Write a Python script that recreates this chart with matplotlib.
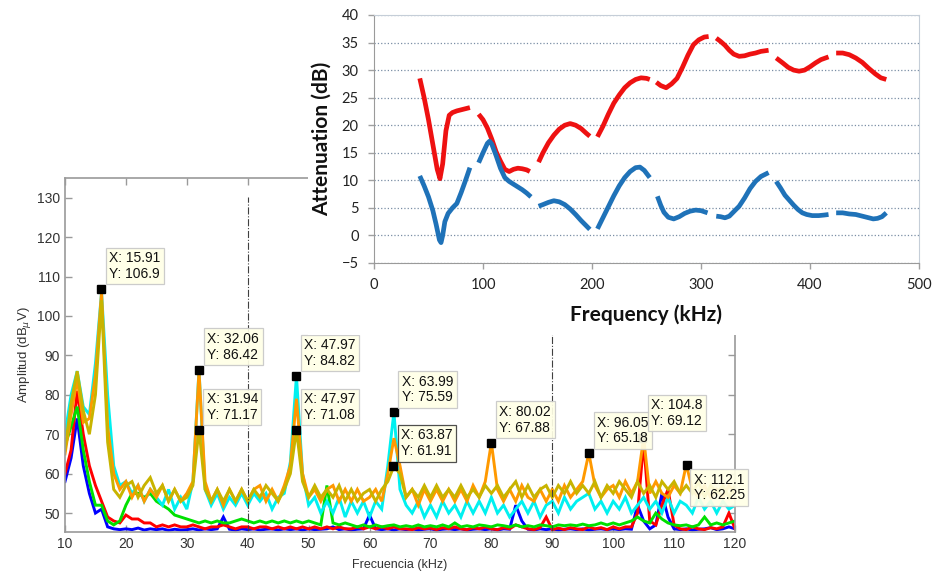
import numpy as np
import matplotlib
matplotlib.use("Agg")
import matplotlib.pyplot as plt
from matplotlib.patches import Rectangle

# ---------------- bottom chart data (MATLAB spectra) ----------------
freq_khz = list(range(10, 121))

amp_blue = [58, 64, 74, 62, 55, 50, 51, 46.5, 46, 45.8,
            46, 45.8, 46.2, 45.7, 46, 45.8, 46, 45.6, 45.9, 45.7,
            45.8, 46, 45.7, 46, 45.8, 46, 49, 45.9, 45.7, 46,
            45.8, 46, 45.7, 45.9, 46, 45.7, 46, 45.8, 46, 45.7,
            46, 45.8, 45.9, 46, 46.5, 45.8, 46, 45.7, 45.9, 46,
            49.5, 46, 45.8, 46, 45.7, 46, 45.8, 46, 45.7, 45.9,
            46, 45.7, 45.9, 46, 45.8, 46, 45.7, 45.9, 46, 45.8,
            46, 45.7, 46, 45.9, 52, 48, 45.9, 45.7, 46, 45.8,
            46, 45.7, 45.9, 46, 45.8, 46, 45.7, 45.9, 46, 45.8,
            46, 45.8, 46, 45.9, 52, 48, 46, 47, 55, 49,
            46, 45.8, 46, 45.7, 45.9, 46, 46.3, 45.8, 46, 46.5,
            46]

amp_red = [60, 66, 81, 70, 62, 57, 53, 49, 48, 47.5,
           49.5, 48.5, 48.5, 47.5, 47.5, 46.5, 47, 46.5, 47, 46.5,
           46.5, 47, 46.5, 46, 46.5, 46.5, 47, 46.5, 46, 46.5,
           46.5, 46, 46.5, 46.5, 46, 46.5, 46, 46.5, 46, 46.5,
           46, 46.5, 46, 46.5, 46, 46.5, 46, 46, 46.5, 46,
           46.5, 46, 46.5, 46, 46.5, 46, 46, 45.8, 46.3, 46,
           46.2, 45.8, 46.3, 46, 46.5, 46, 45.8, 46.3, 46, 46.5,
           46, 45.8, 46.3, 46, 47, 46.5, 46, 45.8, 46.3, 49,
           45.8, 46.2, 45.8, 46.3, 46, 45.8, 46.5, 46, 46.3, 45.8,
           46.5, 46, 46.5, 46.5, 50, 68, 48, 47, 52, 56,
           47, 46, 45.8, 46.5, 46, 45.8, 46.3, 46, 46.5, 50,
           46]

amp_green = [67, 72, 77, 66, 58, 52, 52, 48, 47, 48,
             52, 55, 55, 54, 55, 53, 52, 51, 49.5, 49,
             48.5, 48, 47.5, 48, 47.5, 48, 47.5, 47.5, 48, 48.5,
             48, 47.5, 48, 47.5, 48, 47.5, 48, 47.5, 48, 47.5,
             48, 47.5, 47, 57, 47.5, 47, 47.5, 47, 46.5, 47,
             46.5, 47, 46.5, 46.8, 47, 46.5, 46.8, 46.5, 47, 46.5,
             46.8, 46.5, 47, 46.5, 47.5, 46.5, 46.8, 46.5, 47, 46.8,
             46.5, 47, 46.8, 46.5, 47, 46.5, 46.8, 46.5, 47, 46.8,
             46.5, 47, 46.8, 47, 46.8, 47.2, 46.8, 47, 47.5, 47,
             47.5, 47, 47.5, 48, 49, 48, 47.5, 50, 48.5, 47.5,
             47, 46.8, 47, 46.5, 47, 49, 47, 47.5, 47, 47.5,
             48]

amp_cyan = [70, 80, 86, 77, 75, 88, 106, 80, 62, 57,
            58, 55, 57, 53, 56, 54, 52, 56, 51, 54,
            51, 58, 86.4, 56, 52, 55, 51, 54, 52, 55,
            52, 55, 53, 55, 51, 54, 55, 63, 84.8, 60,
            52, 54, 50, 53, 50, 54, 49, 53, 50, 53,
            49, 53, 51, 62, 75.6, 56, 52, 50, 53, 49,
            52, 49, 53, 50, 52, 49, 53, 50, 53, 50,
            54, 50, 52, 49, 51, 53, 50, 53, 49, 52,
            53, 50, 54, 51, 53, 54, 55, 51, 53, 50,
            53, 51, 54, 50, 52, 54, 51, 53, 50, 54,
            50, 53, 52, 50, 54, 51, 53, 50, 53, 51,
            52]

amp_orange = [65, 75, 84, 73, 74, 85, 106, 72, 60, 56,
              58, 54, 57, 53, 56, 54, 57, 53, 56, 53,
              55, 58, 86, 58, 53, 56, 52, 56, 53, 56,
              53, 56, 57, 53, 56, 53, 57, 62, 79, 60,
              54, 56, 53, 56, 57, 53, 56, 53, 56, 53,
              54, 56, 53, 60, 69, 62, 54, 56, 52, 56,
              53, 56, 53, 56, 53, 56, 53, 57, 54, 58,
              67.9, 56, 53, 56, 53, 57, 54, 53, 56, 53,
              56, 53, 57, 54, 56, 58, 65.2, 57, 54, 56,
              57, 54, 58, 55, 58, 69.1, 55, 58, 55, 54,
              57, 55, 62.3, 56, 54, 57, 54, 56, 54, 57,
              55]

amp_olive = [66, 78, 86, 76, 70, 80, 104, 68, 56, 54,
             57, 58, 54, 57, 59, 55, 57, 53, 56, 53,
             54, 57, 71.2, 56, 53, 56, 53, 56, 53, 56,
             53, 56, 54, 57, 55, 53, 56, 60, 71.1, 58,
             54, 57, 54, 56, 54, 57, 53, 56, 53, 55,
             56, 53, 56, 58, 61.9, 60, 54, 56, 54, 57,
             54, 57, 54, 56, 54, 57, 54, 56, 54, 57,
             55, 57, 54, 56, 58, 54, 57, 54, 56, 57,
             54, 57, 55, 58, 55, 57, 55, 58, 54, 57,
             55, 58, 56, 54, 58, 55, 57, 54, 58, 56,
             58, 55, 57, 55, 58, 54, 57, 55, 57, 54,
             57]

tip_x = [15.91, 32.06, 31.94, 47.97, 47.97, 63.99, 63.87, 80.02, 96.05, 104.8, 112.1]
tip_y = [106.9, 86.42, 71.17, 84.82, 71.08, 75.59, 61.91, 67.88, 65.18, 69.12, 62.25]
tip_label_x = ["15.91", "32.06", "31.94", "47.97", "47.97", "63.99", "63.87", "80.02", "96.05", "104.8", "112.1"]
tip_label_y = ["106.9", "86.42", "71.17", "84.82", "71.08", "75.59", "61.91", "67.88", "65.18", "69.12", "62.25"]

marker_lines_khz = [40, 90]
bottom_xticks = [10, 20, 30, 40, 50, 60, 70, 80, 90, 100, 110, 120]
bottom_yticks = [50, 60, 70, 80, 90, 100, 110, 120, 130]

# ---------------- top chart data (Excel attenuation) ----------------
red_freq = [
    [42, 46, 50, 54, 58, 60.5, 63, 66, 69, 72, 76, 80, 84, 88],
    [96, 100, 104, 108, 112, 116, 120, 124, 128, 132, 136, 140, 143],
    [151, 155, 160, 165, 170, 175, 180, 185, 190, 195, 198],
    [205, 210, 215, 220, 225, 230, 235, 240, 245, 250, 253],
    [259, 263, 268, 273, 278, 283, 288, 293, 298, 303, 307],
    [314, 318, 322, 326, 330, 335, 340, 345, 350, 355, 362],
    [369, 375, 380, 385, 390, 395, 400, 405, 410, 417],
    [424, 430, 436, 442, 448, 454, 460, 465, 470],
]
red_att = [
    [28.5, 25, 21, 16.5, 12, 10.3, 13, 19, 21.8, 22.3, 22.6, 22.8, 23, 23.2],
    [22, 21, 19.5, 17.5, 15.2, 13.5, 12, 11.6, 12, 12.2, 12.1, 11.9, 11.6],
    [13.3, 15, 16.8, 18.2, 19.3, 20, 20.3, 20, 19.4, 18.5, 18],
    [17.9, 19.8, 22, 24, 25.5, 26.8, 27.7, 28.3, 28.6, 28.5, 28.3],
    [27.8, 27.2, 26.8, 27.5, 28.5, 30.5, 32.7, 34.6, 35.5, 36, 36.1],
    [35.8, 35.2, 34.5, 33.6, 32.9, 32.5, 32.6, 32.9, 33.1, 33.4, 33.6],
    [32.2, 31.3, 30.5, 30, 29.8, 30, 30.6, 31.3, 31.9, 32.4],
    [33.1, 33.1, 32.8, 32.2, 31.4, 30.3, 29.3, 28.6, 28.3],
]
blue_freq = [
    [42, 46, 50, 54, 57, 60, 61.5, 63, 65, 68, 72, 76, 80, 84, 88],
    [96, 100, 104, 106, 108, 112, 116, 120, 124, 128, 132, 136, 140, 144],
    [151, 155, 160, 165, 170, 175, 180, 185, 190, 195, 198],
    [205, 210, 215, 220, 225, 230, 235, 240, 244, 248, 253],
    [260, 263, 266, 270, 275, 280, 285, 290, 295, 300, 306],
    [314, 318, 322, 326, 330, 335, 340, 345, 350, 355, 360, 362],
    [369, 373, 377, 381, 385, 389, 393, 397, 402, 408, 413, 417],
    [424, 430, 436, 442, 448, 454, 458, 462, 466, 470],
]
blue_att = [
    [10.8, 9, 7, 4.5, 2, -0.8, -1.3, 0, 2.5, 4, 5, 5.8, 7.8, 10, 12.3],
    [13.2, 15, 16.7, 17.1, 16.6, 14.5, 12.2, 10.5, 9.8, 9.3, 8.8, 8.3, 7.7, 7],
    [5.3, 5.6, 6, 6.3, 6.1, 5.6, 4.8, 3.8, 2.7, 1.7, 1.1],
    [1.2, 3.2, 5.2, 7.2, 9, 10.5, 11.6, 12.3, 12.4, 11.8, 10.5],
    [7.1, 5.5, 4.2, 3.3, 3, 3.4, 4, 4.4, 4.6, 4.5, 4.1],
    [3.5, 3.4, 3.2, 3.5, 4.3, 5.3, 6.8, 8.5, 9.8, 10.7, 11.2, 11.4],
    [9.8, 8.6, 7.3, 6.4, 5.5, 4.7, 4.1, 3.8, 3.6, 3.6, 3.7, 3.8],
    [4.1, 4.1, 3.9, 3.8, 3.5, 3.2, 3, 3.1, 3.4, 4.1],
]
top_xticks = [0, 100, 200, 300, 400, 500]
top_yticks = [-5, 0, 5, 10, 15, 20, 25, 30, 35, 40]

# ---------------- figure ----------------
W, H = 947, 571
fig = plt.figure(figsize=(W / 100, H / 100), dpi=100)
fig.patch.set_facecolor("white")

def fx(px):
    return px / W

def fy(py):
    return 1 - py / H

# bottom (MATLAB-style) axes
ax = fig.add_axes([fx(65), fy(532), fx(735) - fx(65), fy(178) - fy(532)])
ax.set_zorder(0)
series = [(amp_blue, "#0000ff"), (amp_red, "#ff0000"), (amp_green, "#00e000"),
          (amp_cyan, "#00f0f0"), (amp_orange, "#ff9900"), (amp_olive, "#c8b400")]
for vals, col in series:
    ax.plot(freq_khz, vals, color=col, lw=2.1, solid_joinstyle="miter")
for xv in marker_lines_khz:
    ax.plot([xv, xv], [45.2, 130.2], color="#404040", lw=0.8, ls="-.")
ax.set_xlim(10, 120)
ax.set_ylim(45.2, 135)
ax.set_xticks(bottom_xticks)
ax.set_yticks(bottom_yticks)
ax.tick_params(direction="in", length=5, width=1, colors="#9a9a9a",
               labelcolor="#333333", labelsize=10, top=True, right=True)
for s in ax.spines.values():
    s.set_color("#9a9a9a")
    s.set_linewidth(1.2)
ax.set_xlabel("Frecuencia (kHz)", fontsize=9, color="#333333", labelpad=6,
              family="Liberation Sans")
ax.set_ylabel("Amplitud (dB$_\\mu$V)", fontsize=9.5, color="#333333", labelpad=3,
              family="Liberation Sans")
for lab in ax.get_xticklabels() + ax.get_yticklabels():
    lab.set_family("Liberation Sans")

ax.plot(tip_x, tip_y, ls="none", marker="s", ms=5.5, color="black", zorder=5)

offsets = [(8, 8)] * 11
offsets[9] = (9, 10)
vas = ["bottom"] * 11
vas[10] = "top"
offsets[10] = (7, -8)
for i in range(len(tip_x)):
    edge = "#404040" if i == 6 else "#c8c8c8"
    ax.annotate("X: " + tip_label_x[i] + "\nY: " + tip_label_y[i],
                xy=(tip_x[i], tip_y[i]), xytext=offsets[i],
                textcoords="offset pixels", ha="left", va=vas[i],
                fontsize=10, family="Liberation Sans", color="#111111",
                linespacing=1.15, zorder=6 + i,
                bbox=dict(boxstyle="square,pad=0.25", fc="#ffffe6",
                          ec=edge, lw=0.9, alpha=0.92))

# white panel under the inset Excel chart
fig.add_artist(Rectangle((fx(308), fy(335)), 1 - fx(308), fy(0) - fy(335),
                         transform=fig.transFigure, facecolor="white",
                         edgecolor="none", zorder=1))

# top (Excel-style) axes
ax2 = fig.add_axes([fx(374), fy(263), fx(919) - fx(374), fy(15) - fy(263)])
ax2.set_zorder(2)
for xs, ys in zip(red_freq, red_att):
    ax2.plot(xs, ys, color="#ee1111", lw=3.4, solid_capstyle="butt")
for xs, ys in zip(blue_freq, blue_att):
    ax2.plot(xs, ys, color="#1f72b8", lw=3.4, solid_capstyle="butt")
ax2.set_xlim(0, 500)
ax2.set_ylim(-5, 40)
ax2.set_xticks(top_xticks)
ax2.set_yticks(top_yticks)
ax2.yaxis.grid(True, ls=":", color="#7a8ea5", lw=0.9)
ax2.set_axisbelow(True)
ax2.tick_params(direction="out", length=4, width=1, colors="#a0a0a0",
                labelcolor="#222222", labelsize=10.5, pad=7)
for lab in ax2.get_xticklabels() + ax2.get_yticklabels():
    lab.set_family("Lato")
ax2.spines["left"].set_color("#9a9a9a")
ax2.spines["bottom"].set_color("#9a9a9a")
ax2.spines["top"].set_color("#c5ced8")
ax2.spines["right"].set_color("#c5ced8")
ax2.set_xlabel("Frequency (kHz)", fontsize=15, fontweight="bold",
               family="Lato", color="#111111", labelpad=9)
ax2.set_ylabel("Attenuation (dB)", fontsize=15, fontweight="bold",
               family="Lato", color="#111111", labelpad=7)

fig.savefig("out.png", dpi=100, facecolor="white")
